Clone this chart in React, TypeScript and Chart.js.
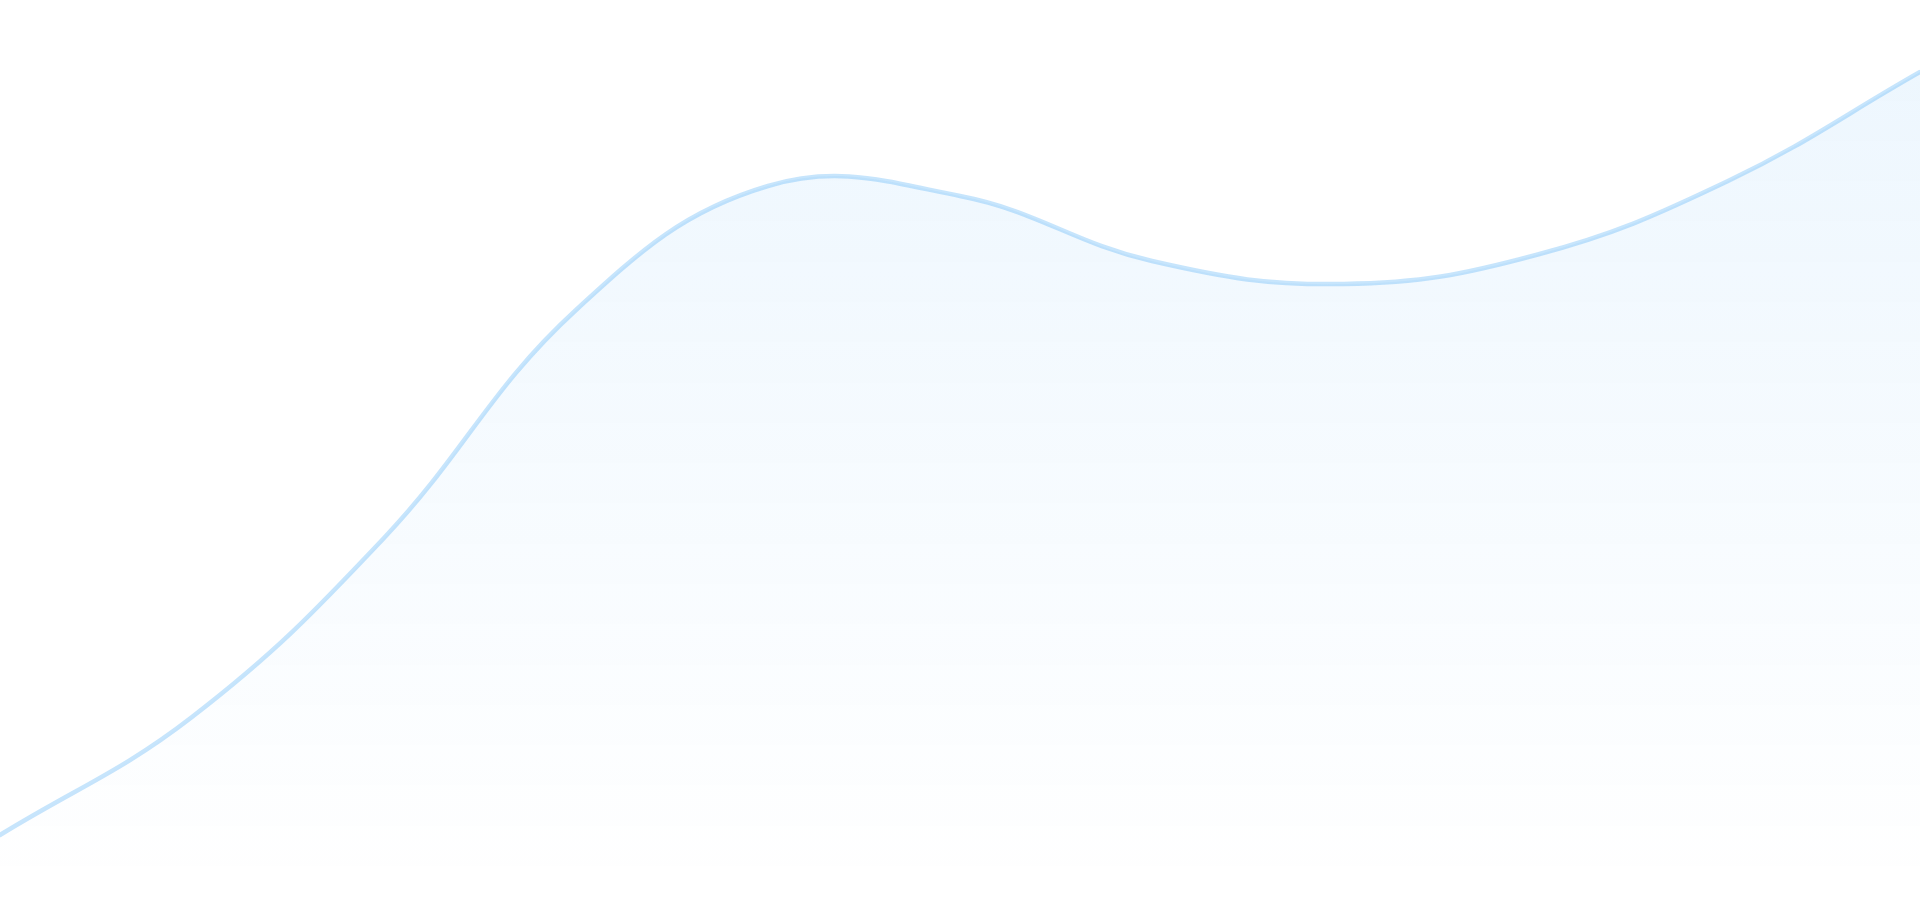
import React, { useEffect, useRef } from "react";
import { Chart, registerables } from "chart.js";

Chart.register(...registerables);

// Evenly spaced sample positions along the x scale (0..1920)
const xPositions = [0, 192, 384, 576, 768, 960, 1152, 1344, 1536, 1728, 1920];
// Height of the curve above the baseline at each position (0..901)
const heights = [66, 184, 363, 591, 715, 705, 640, 617, 646, 720, 829];

const X_MIN = 0;
const X_MAX = 1920;
const Y_MIN = 0;
const Y_MAX = 901;

const LINE_COLOR = "rgba(33,150,243,0.25)";
const FILL_TOP = "rgba(33,150,243,0.085)";
const FILL_BOTTOM = "rgba(33,150,243,0)";

export default function App() {
  const canvasRef = useRef<HTMLCanvasElement | null>(null);

  useEffect(() => {
    const canvas = canvasRef.current;
    if (!canvas) return;
    const points = xPositions.map((x, i) => ({ x, y: heights[i] }));
    const chart = new Chart(canvas, {
      type: "line",
      data: {
        datasets: [
          {
            data: points,
            borderColor: LINE_COLOR,
            borderWidth: 4.5,
            borderCapStyle: "round",
            borderJoinStyle: "round",
            pointRadius: 0,
            pointHoverRadius: 0,
            tension: 0.4,
            fill: "start",
            backgroundColor: (ctx: any) => {
              const ch = ctx.chart;
              const area = ch.chartArea;
              if (!area) return FILL_TOP;
              const g = ch.ctx.createLinearGradient(0, area.top, 0, area.bottom - 15);
              g.addColorStop(0, FILL_TOP);
              g.addColorStop(1, FILL_BOTTOM);
              return g;
            },
          },
        ],
      },
      options: {
        animation: false,
        responsive: false,
        devicePixelRatio: 1,
        layout: { padding: 0 },
        plugins: {
          legend: { display: false },
          tooltip: { enabled: false },
        },
        events: [],
        scales: {
          x: { type: "linear", min: X_MIN, max: X_MAX, display: false },
          y: { type: "linear", min: Y_MIN, max: Y_MAX, display: false },
        },
      },
    });
    return () => chart.destroy();
  }, []);

  return (
    <div
      style={{
        position: "fixed",
        left: 0,
        top: 0,
        width: "1920px",
        height: "901px",
        background: "#ffffff",
      }}
    >
      <canvas ref={canvasRef} width={1920} height={901} style={{ display: "block", width: "1920px", height: "901px" }} />
    </div>
  );
}
